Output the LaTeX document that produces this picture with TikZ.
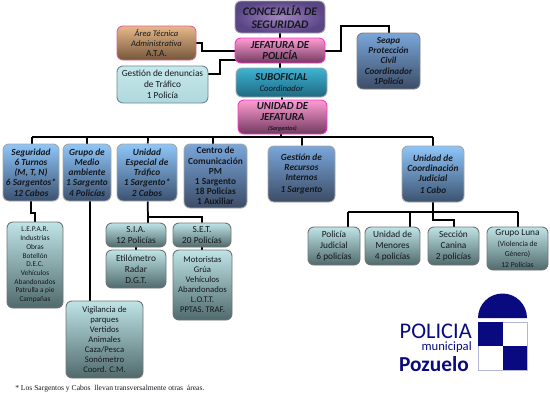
\documentclass[tikz,border=0pt]{standalone}
\usepackage{fontspec}
\setmainfont{Carlito}
\newfontfamily\timesf{Liberation Serif}
\usetikzlibrary{backgrounds}
\definecolor{navy}{HTML}{0A0A80}
\definecolor{ink}{HTML}{14181E}
\definecolor{cIn}{HTML}{A185C0}\definecolor{cOut}{HTML}{5A4585}
\definecolor{jTop}{HTML}{FF9DD2}\definecolor{jBot}{HTML}{71395F}\definecolor{jEdge}{HTML}{FF33CC}
\definecolor{aTop}{HTML}{E6B98A}\definecolor{aBot}{HTML}{75563A}\definecolor{aEdge}{HTML}{E0609A}
\definecolor{dTop}{HTML}{C6E8EA}\definecolor{dBot}{HTML}{B0D8DC}\definecolor{dEdge}{HTML}{6A8A90}
\definecolor{sTop}{HTML}{3EB2D2}\definecolor{sBot}{HTML}{1E6A82}
\definecolor{uTop}{HTML}{8EC6FA}\definecolor{uBot}{HTML}{3C5270}
\definecolor{vTop}{HTML}{7AA6DA}\definecolor{vBot}{HTML}{3C4C66}
\definecolor{lTop}{HTML}{BFE4E6}\definecolor{lBot}{HTML}{506A6C}
\newcommand{\fs}[2]{\fontsize{#1}{#2}\selectfont}
\tikzset{
  x=0.75pt,y=-0.75pt,
  box/.style={draw,rounded corners=4.5pt,line width=0.7pt,align=center,inner sep=0pt,text=ink},
  conc/.style={box,draw=gray!70,inner color=cIn,outer color=cOut,font=\bfseries\itshape\fs{8.7}{9.5}},
  jef/.style={box,draw=jEdge,top color=jTop,bottom color=jBot,font=\bfseries\itshape\fs{8.1}{8.5}},
  ata/.style={box,draw=aEdge,top color=aTop,bottom color=aBot,font=\itshape\fs{6.4}{7.6}},
  den/.style={box,draw=dEdge,top color=dTop,bottom color=dBot,font=\fs{7}{8.2}},
  sub/.style={box,draw=gray!70,top color=sTop,bottom color=sBot,font=\itshape\fs{6.5}{8.4}},
  sea/.style={box,draw=gray,top color=vTop,bottom color=vBot,font=\bfseries\itshape\fs{6.9}{7.6}},
  unit/.style={box,draw=gray!70,top color=uTop,bottom color=uBot,font=\bfseries\itshape\fs{7}{7.6}},
  unitd/.style={unit,top color=vTop,bottom color=vBot},
  unitb/.style={unit,top color=vTop,bottom color=vBot,font=\bfseries\fs{7}{7.6}},
  leaf/.style={box,draw=black!55,top color=lTop,bottom color=lBot,font=\fs{7}{8.2}},
  leafm/.style={leaf,font=\fs{6.5}{7.5}},
  leafs/.style={leaf,font=\fs{5.5}{6.55}},
  link/.style={draw=black,line width=1.3pt},
  notetext/.style={font=\timesf\fs{5.7}{7},text=ink,anchor=west,inner sep=0pt},
  logotext/.style={text=navy,anchor=east,inner sep=0pt},
}
% \bx{name}{x1}{y1}{x2}{y2}{style}{text}
\newcommand{\bx}[7]{\node[#6,minimum width={(#4-#2)*0.75pt},minimum height={(#5-#3)*0.75pt}] (#1) at ({(#2+#4)/2},{(#3+#5)/2}) {#7};}
\begin{document}
\begin{tikzpicture}
\useasboundingbox (0,0) rectangle (550,411);
\bx{concejalia}{235}{1}{325}{33}{conc}{CONCEJALÍA DE\\SEGURIDAD}
\bx{jefatura}{235}{38}{325}{63}{jef}{JEFATURA DE\\POLICÍA}
\bx{area}{117}{26}{196}{60}{ata}{Área Técnica\\Administrativa\\{\normalfont\fs{7}{8}A.T.A.}}
\bx{denuncias}{117}{66}{208}{103}{den}{Gestión de denuncias\\de Tráfico\\1 Policía}
\bx{suboficial}{236}{68}{327}{97}{sub}{{\bfseries\fs{8}{10}SUBOFICIAL}\\Coordinador}
\bx{ujefatura}{238}{100}{327}{134}{jef}{UNIDAD DE\\JEFATURA\\[-1pt]{\fs{4.5}{5}(Sargentos)}}
\bx{seapa}{357}{33}{420}{89}{sea}{Seapa\\Protección\\Civil\\Coordinador\\1Policía}
\bx{seguridad}{3}{144}{59}{201}{unit}{Seguridad\\6 Turnos\\(M, T, N)\\6 Sargentos*\\12 Cabos}
\bx{grupo}{63}{144}{111}{201}{unit}{Grupo de\\Medio\\ambiente\\1 Sargento\\4 Policías}
\bx{especial}{117}{144}{177}{201}{unit}{Unidad\\Especial de\\Tráfico\\1 Sargento*\\2 Cabos}
\bx{centro}{184}{144}{247}{208}{unitb}{Centro de\\Comunicación\\PM\\1 Sargento\\18 Policías\\1 Auxiliar}
\bx{recursos}{268}{146}{335}{202}{unitd}{Gestión de\\Recursos\\Internos\\[1.5pt]1 Sargento}
\bx{coordinacion}{402}{146}{464}{202}{unit}{Unidad de\\Coordinación\\Judicial\\[1.5pt]1 Cabo}
\bx{judicial}{308}{227}{360}{265}{leaf}{Policía\\Judicial\\6 policías}
\bx{menores}{365}{227}{420}{265}{leaf}{Unidad de\\Menores\\4 policías}
\bx{canina}{428}{227}{479}{265}{leaf}{Sección\\Canina\\2 policías}
\bx{luna}{487}{227}{548}{270}{leaf}{Grupo Luna\\{\fs{5.7}{6.5}(Violencia de}\\{\fs{5.7}{6.5}Género)}\\{\fs{5.7}{6.5}12 Policías}}
\bx{lepar}{7}{222}{63}{308}{leafs}{L.E.P.A.R.\\Industrias\\Obras\\Botellón\\D.E.C.\\Vehículos\\Abandonados\\Patrulla a pie\\Campañas}
\bx{sia}{106}{223}{166}{247}{leaf}{S.I.A.\\12 Policías}
\bx{etilometro}{106}{250}{166}{288}{leaf}{Etilómetro\\Radar\\D.G.T.}
\bx{set}{173}{223}{231}{247}{leaf}{S.E.T.\\20 Policías}
\bx{motoristas}{173}{250}{232}{320}{leafm}{Motoristas\\Grúa\\Vehículos\\Abandonados\\L.O.T.T.\\PPTAS. TRAF.}
\bx{vigilancia}{66}{301}{143}{378}{leafm}{Vigilancia de\\parques\\Vertidos\\Animales\\Caza/Pesca\\Sonómetro\\Coord. C.M.}
\node[notetext] (nota) at (15,389) {* Los Sargentos y Cabos\ \ llevan transversalmente otras\ \ áreas.};
% logo
\fill[navy] (478,318) arc[start angle=180,end angle=360,x radius=24.5,y radius=24.5] -- cycle;
\draw[navy!30,line width=0.6pt] (478,322) rectangle (527,370);
\fill[navy] (478,322) rectangle (503,346);
\fill[navy] (503,346) rectangle (527,370);
\node[logotext,font=\fs{16.8}{17}] (lpolicia) at (472,331) {POLICIA};
\node[logotext,font=\fs{9.5}{10}] (lmunicipal) at (472,347.5) {municipal};
\node[logotext,font=\bfseries\fs{16}{17}] (lpozuelo) at (469,364) {Pozuelo};
% connector bends
\coordinate (a1) at (202,43); \coordinate (a2) at (202,51);
\coordinate (d1) at (220,74); \coordinate (d2) at (220,60); \coordinate (d3) at (240,60);
\coordinate (s1) at (341,51); \coordinate (s2) at (341,26); \coordinate (s3) at (389,26);
\coordinate (busl) at (32,137); \coordinate (busm) at (281,137); \coordinate (busr) at (433,137);
\coordinate (bg) at (87,137); \coordinate (be) at (148,137); \coordinate (bc) at (213,137); \coordinate (br) at (302,137);
\coordinate (l1) at (31,195); \coordinate (l2) at (31,213); \coordinate (l3) at (35,213); \coordinate (l4) at (35,230);
\coordinate (v1) at (90,195); \coordinate (v2) at (90,310);
\coordinate (t1) at (148,217); \coordinate (t2) at (202,217);
\coordinate (i1) at (136,240); \coordinate (i2) at (136,260);
\coordinate (c1) at (433,212); \coordinate (cj) at (348,212); \coordinate (cm) at (410,212); \coordinate (cl) at (518,212);
\coordinate (cc1) at (433,220); \coordinate (cc2) at (454,220); \coordinate (cc3) at (454,235);
\begin{scope}[on background layer]
\draw[link] (concejalia) -- (jefatura);
\draw[link] (area) -- (a1) -- (a2) -- (a2 -| jefatura.center);
\draw[link] (denuncias.center |- d1) -- (d1) -- (d2) -- (d3);
\draw[link] (jefatura.center |- s1) -- (s1) -- (s2) -- (s3) -- (s3 |- seapa.center);
\draw[link] (jefatura) -- (suboficial.north -| jefatura);
\draw[link] (suboficial) -- (ujefatura);
\draw[link] (busm |- ujefatura.center) -- (busm);
\draw[link] (busl) -- (busr);
\draw[link] (busl) -- (seguridad.north -| busl);
\draw[link] (bg) -- (grupo.north -| bg);
\draw[link] (be) -- (especial);
\draw[link] (bc) -- (centro.north -| bc);
\draw[link] (br) -- (recursos);
\draw[link] (busr) -- (coordinacion);
\draw[link] (l1) -- (l2) -- (l3) -- (l4);
\draw[link] (v1) -- (v2);
\draw[link] (especial) -- (t1) -- (t2) -- (set);
\draw[link] (t1) -- (t1 |- sia.north);
\draw[link] (i1) -- (i2);
\draw[link] (set.center -| t2) -- (motoristas.center -| t2);
\draw[link] (coordinacion) -- (c1);
\draw[link] (cj) -- (cl);
\draw[link] (cj) -- (cj |- judicial.center);
\draw[link] (cm) -- (cm |- menores.center);
\draw[link] (c1) -- (cc1) -- (cc2) -- (cc3);
\draw[link] (cl) -- (cl |- luna.center);
\end{scope}
\end{tikzpicture}
\end{document}
